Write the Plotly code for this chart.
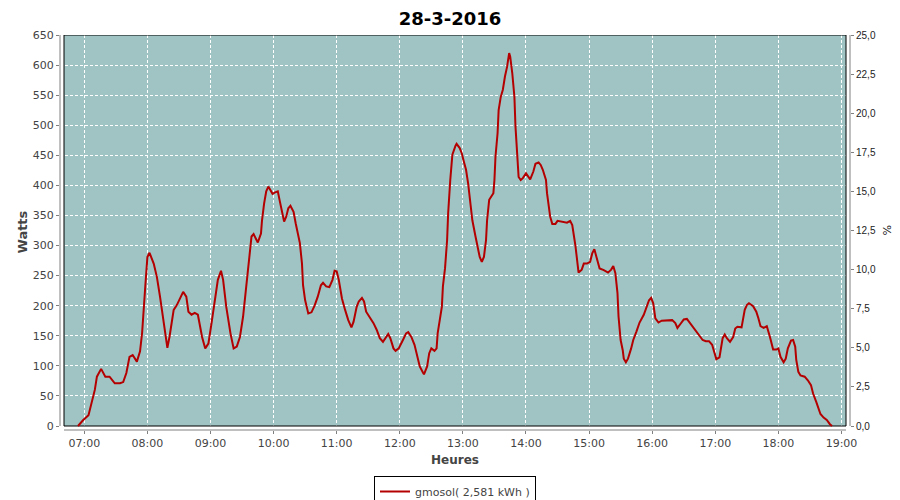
import plotly.graph_objects as go

DAY = "2016-03-28 "

times = [
    "06:54", "06:59", "07:04", "07:07", "07:10", "07:12", "07:16", "07:20", "07:24", "07:29",
    "07:34", "07:37", "07:40", "07:43", "07:46", "07:50", "07:53", "07:55", "07:56", "07:58",
    "08:00", "08:02", "08:06", "08:09", "08:12", "08:15", "08:18", "08:19", "08:21", "08:25",
    "08:28", "08:31", "08:34", "08:37", "08:39", "08:42", "08:45", "08:48", "08:52", "08:55",
    "08:58", "09:01", "09:04", "09:07", "09:10", "09:12", "09:15", "09:19", "09:22", "09:25",
    "09:28", "09:31", "09:34", "09:37", "09:39", "09:41", "09:44", "09:45", "09:48", "09:49",
    "09:51", "09:53", "09:55", "09:57", "09:59", "10:01", "10:04", "10:06", "10:09", "10:10",
    "10:12", "10:14", "10:16", "10:19", "10:21", "10:23", "10:25", "10:27", "10:28", "10:30",
    "10:33", "10:36", "10:39", "10:42", "10:45", "10:47", "10:50", "10:53", "10:56", "10:58",
    "11:00", "11:02", "11:05", "11:08", "11:11", "11:14", "11:16", "11:19", "11:21", "11:24",
    "11:26", "11:28", "11:32", "11:35", "11:38", "11:41", "11:44", "11:47", "11:49", "11:51",
    "11:54", "11:56", "11:59", "12:03", "12:06", "12:08", "12:11", "12:14", "12:17", "12:19",
    "12:22", "12:23", "12:26", "12:28", "12:30", "12:33", "12:35", "12:36", "12:38", "12:40",
    "12:41", "12:43", "12:45", "12:46", "12:48", "12:50", "12:53", "12:54", "12:57", "12:59",
    "13:01", "13:03", "13:05", "13:07", "13:09", "13:12", "13:14", "13:16", "13:18", "13:20",
    "13:22", "13:23", "13:25", "13:27", "13:29", "13:30", "13:31", "13:33", "13:34", "13:36",
    "13:38", "13:40", "13:42", "13:44", "13:45", "13:47", "13:49", "13:50", "13:52", "13:53",
    "13:55", "13:57", "14:00", "14:02", "14:04", "14:07", "14:09", "14:12", "14:14", "14:16",
    "14:19", "14:20", "14:22", "14:23", "14:25", "14:28", "14:30", "14:33", "14:36", "14:39",
    "14:42", "14:44", "14:47", "14:49", "14:50", "14:53", "14:55", "14:58", "15:01", "15:03",
    "15:05", "15:07", "15:10", "15:14", "15:18", "15:21", "15:23", "15:25", "15:27", "15:28",
    "15:30", "15:32", "15:33", "15:35", "15:37", "15:40", "15:42", "15:45", "15:48", "15:52",
    "15:55", "15:57", "15:59", "16:01", "16:03", "16:06", "16:09", "16:14", "16:19", "16:22",
    "16:24", "16:27", "16:30", "16:33", "16:36", "16:39", "16:42", "16:45", "16:48", "16:51",
    "16:54", "16:57", "16:59", "17:01", "17:04", "17:05", "17:07", "17:09", "17:11", "17:14",
    "17:17", "17:19", "17:21", "17:25", "17:26", "17:28", "17:30", "17:32", "17:36", "17:39",
    "17:41", "17:43", "17:46", "17:49", "17:52", "17:55", "17:58", "18:00", "18:02", "18:05",
    "18:07", "18:09", "18:12", "18:14", "18:16", "18:17", "18:19", "18:21", "18:25", "18:28",
    "18:31", "18:33", "18:36", "18:38", "18:40", "18:43", "18:46", "18:49", "18:51",
]

watts = [
    0, 10, 18, 38, 60, 82, 95, 82, 82, 71,
    71, 73, 88, 115, 118, 107, 124, 155, 188, 232,
    281, 288, 270, 248, 215, 176, 143, 130, 148, 193,
    201, 212, 223, 215, 190, 185, 188, 185, 148, 129,
    137, 171, 207, 243, 258, 243, 198, 154, 129, 132,
    148, 182, 232, 287, 315, 319, 309, 305, 320, 342,
    370, 390, 398, 393, 386, 388, 390, 373, 348, 340,
    348, 362, 366, 356, 337, 320, 304, 270, 234, 209,
    187, 189, 200, 215, 234, 238, 232, 231, 243, 258,
    257, 243, 212, 193, 176, 164, 173, 198, 207, 213,
    207, 190, 179, 171, 160, 146, 140, 148, 153, 146,
    129, 125, 129, 143, 154, 156, 148, 135, 113, 99,
    89, 86, 99, 121, 129, 125, 129, 154, 176, 198,
    232, 262, 309, 354, 409, 451, 466, 469, 462, 453,
    439, 426, 403, 376, 342, 315, 298, 281, 273, 281,
    309, 342, 376, 382, 387, 409, 448, 487, 525, 547,
    559, 581, 597, 620, 614, 586, 547, 498, 448, 414,
    409, 412, 420, 414, 410, 423, 436, 438, 434, 426,
    409, 387, 365, 348, 336, 336, 341, 340, 339, 338,
    341, 334, 300, 265, 255, 260, 270, 270, 273, 287,
    294, 281, 262, 259, 255, 260, 266, 254, 221, 182,
    143, 126, 112, 106, 112, 129, 143, 157, 172, 185,
    199, 209, 213, 204, 179, 172, 175, 176, 176, 171,
    163, 170, 177, 178, 171, 164, 157, 150, 143, 141,
    141, 135, 121, 111, 114, 126, 146, 152, 146, 140,
    148, 162, 165, 164, 176, 193, 201, 204, 199, 190,
    179, 166, 163, 166, 148, 127, 127, 129, 115, 106,
    112, 129, 142, 143, 132, 110, 90, 84, 82, 76,
    68, 54, 40, 29, 20, 14, 10, 3, 0,
]

series_name = "gmosol( 2,581 kWh )"
title_text = "28-3-2016"
x_title = "Heures"
y_title = "Watts"
y2_title = "%"
hour_ticks = ["07:00", "08:00", "09:00", "10:00", "11:00", "12:00", "13:00",
              "14:00", "15:00", "16:00", "17:00", "18:00", "19:00"]
watts_ticks = list(range(0, 651, 50))
pct_ticks = [0, 2.5, 5, 7.5, 10, 12.5, 15, 17.5, 20, 22.5, 25]
pct_labels = ["0,0", "2,5", "5,0", "7,5", "10,0", "12,5", "15,0", "17,5", "20,0", "22,5", "25,0"]

x = [DAY + t for t in times]

FONT = "DejaVu Sans"
GRID = "white"
AXC = "#808080"
TXT = "#444444"

fig = go.Figure()
fig.add_trace(go.Scatter(
    x=x, y=watts, mode="lines", name=series_name,
    line=dict(color="#b40000", width=2),
    showlegend=True,
))
# invisible trace for right axis
fig.add_trace(go.Scatter(x=[x[0]], y=[0], yaxis="y2", mode="lines",
                         line=dict(width=0), showlegend=False, hoverinfo="skip"))

x_lo = DAY + "06:36:54"
x_hi = DAY + "19:08:06"
frame_x0 = DAY + "06:40:42"
frame_x1 = DAY + "19:04:18"

# the page places the figure 8px from the top-left corner; margins compensate
fig.update_layout(
    width=900, height=500,
    margin=dict(l=52, r=58, t=27, b=78, autoexpand=False),
    paper_bgcolor="white", plot_bgcolor="white",
    font=dict(family=FONT, size=11, color=TXT),
    title=dict(text="<b>" + title_text + "</b>", x=442 / 900, xanchor="center",
               y=1 - 10.5 / 500, yanchor="middle",
               font=dict(family=FONT, size=18, color="black")),
    xaxis=dict(
        type="date", range=[x_lo, x_hi], automargin=False,
        tickvals=[DAY + h for h in hour_ticks], ticktext=hour_ticks,
        showgrid=True, gridcolor=GRID, griddash="3px,2px", gridwidth=1,
        showline=False, zeroline=False,
        ticks="outside", ticklen=3, tickcolor=AXC,
        tickfont=dict(family=FONT, size=11, color=TXT),
    ),
    yaxis=dict(
        range=[-6.65, 650], tickvals=watts_ticks, automargin=False,
        showgrid=True, gridcolor=GRID, griddash="3px,2px", gridwidth=1,
        showline=False, zeroline=False,
        ticks="outside", ticklen=3, tickcolor=AXC,
        tickfont=dict(family=FONT, size=11, color=TXT),
    ),
    yaxis2=dict(
        overlaying="y", side="right", range=[-0.256, 25], automargin=False,
        tickvals=pct_ticks, ticktext=pct_labels,
        showgrid=False, showline=False, zeroline=False,
        ticks="outside", ticklen=3, tickcolor=AXC,
        tickfont=dict(family="Liberation Sans", size=10, color="#222222"),
    ),
    legend=dict(
        orientation="h", x=0.5, xanchor="center", y=-46 / 395, yanchor="top",
        bordercolor="black", borderwidth=1, bgcolor="white",
        font=dict(family=FONT, size=11, color=TXT),
        itemwidth=30, tracegroupgap=0,
    ),
    shapes=[
        dict(type="rect", xref="x", yref="y", x0=frame_x0, x1=frame_x1, y0=0, y1=650,
             fillcolor="#9fc4c3", line=dict(width=0), layer="below"),
        dict(type="rect", xref="x", yref="y", x0=frame_x0, x1=frame_x1, y0=0, y1=650,
             fillcolor="rgba(0,0,0,0)", line=dict(color="black", width=1), layer="between"),
        # axis lines offset from the plot frame
        dict(type="line", xref="paper", yref="paper", x0=0, x1=0, y0=4 / 395, y1=1,
             line=dict(color=AXC, width=1)),
        dict(type="line", xref="paper", yref="paper", x0=4 / 790, x1=786 / 790, y0=0, y1=0,
             line=dict(color=AXC, width=1)),
        dict(type="line", xref="paper", yref="paper", x0=1, x1=1, y0=4 / 395, y1=1,
             line=dict(color=AXC, width=1)),
    ],
    annotations=[
        dict(text="<b>" + y_title + "</b>", xref="paper", yref="paper",
             x=-38 / 790, y=0.5, xanchor="center", yanchor="middle", textangle=-90,
             showarrow=False, font=dict(family=FONT, size=13, color=TXT)),
        dict(text="<b>" + x_title + "</b>", xref="paper", yref="paper",
             x=0.5, y=-30 / 395, xanchor="center", yanchor="middle",
             showarrow=False, font=dict(family=FONT, size=12, color=TXT)),
        dict(text=y2_title, xref="paper", yref="paper",
             x=1 + 37 / 790, y=(430 - 230) / 395, xanchor="center", yanchor="middle",
             textangle=90, showarrow=False, font=dict(family=FONT, size=11, color="#222222")),
    ],
)

fig.write_html("out.html")
